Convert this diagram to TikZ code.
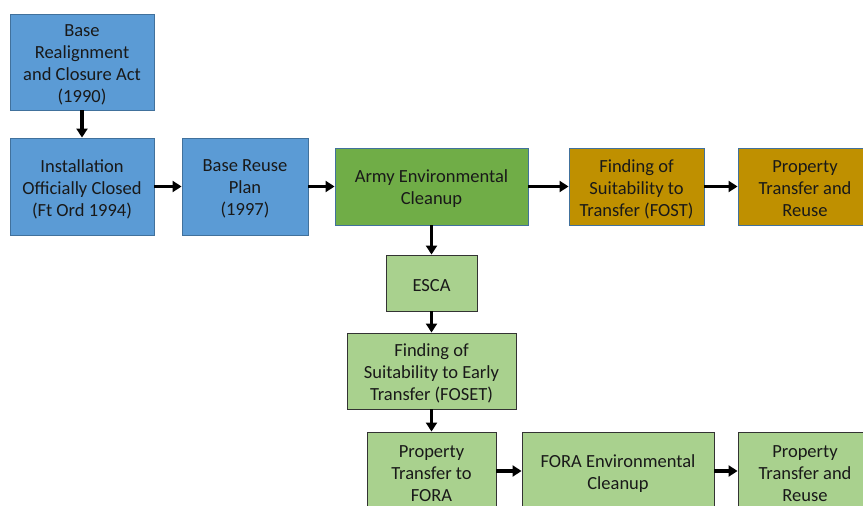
\documentclass[tikz,border=0pt]{standalone}
\usepackage{fontspec}
\setmainfont{Carlito}
\usetikzlibrary{arrows.meta}
\definecolor{bluefill}{HTML}{5B9BD5}
\definecolor{blueline}{HTML}{41719C}
\definecolor{dgreen}{HTML}{70AD47}
\definecolor{lgreen}{HTML}{A9D18E}
\definecolor{gold}{HTML}{BF9000}
\tikzset{
  box/.style={draw, line width=0.9pt, inner sep=0pt, anchor=center},
  boxtext/.style={align=center, inner sep=0pt, yshift=-2.5pt,
    font=\fontsize{18.5}{22}\selectfont, text=black!90},
  bluebox/.style={box, fill=bluefill, draw=blueline},
  dgbox/.style={box, fill=dgreen, draw=blueline},
  goldbox/.style={box, fill=gold, draw=blueline},
  lgbox/.style={box, fill=lgreen, draw=black!80},
  arr/.style={line width=3.5pt, -{Triangle[length=9pt,width=11pt]}, black}
}
\begin{document}
\begin{tikzpicture}[x=1pt,y=-1pt]
\useasboundingbox (0,0) rectangle (863,506);
\clip (0,0) rectangle (863,506);
\node[bluebox, minimum width=144, minimum height=96, label={[boxtext]center:{Base\\Realignment\\and Closure Act\\(1990)}}] (brac) at (82,62) {};
\node[bluebox, minimum width=144, minimum height=97, label={[boxtext]center:{Installation\\Officially Closed\\(Ft Ord 1994)}}] (inst) at (82,186.5) {};
\node[bluebox, minimum width=126, minimum height=97, label={[boxtext]center:{Base Reuse\\Plan\\(1997)}}] (brp) at (245,186.5) {};
\node[dgbox, minimum width=193, minimum height=77, label={[boxtext]center:{Army Environmental\\Cleanup}}] (aec) at (431.5,186.5) {};
\node[goldbox, minimum width=135, minimum height=77, label={[boxtext]center:{Finding of\\Suitability to\\Transfer (FOST)}}] (fost) at (636.5,186.5) {};
\node[goldbox, minimum width=134, minimum height=77, label={[boxtext]center:{Property\\Transfer and\\Reuse}}] (ptr1) at (805,186.5) {};
\node[lgbox, minimum width=91, minimum height=56, label={[boxtext]center:{ESCA}}] (esca) at (431.5,283) {};
\node[lgbox, minimum width=169, minimum height=76, label={[boxtext]center:{Finding of\\Suitability to Early\\Transfer (FOSET)}}] (foset) at (431.5,371) {};
\node[lgbox, minimum width=129, minimum height=78, label={[boxtext]center:{Property\\Transfer to\\FORA}}] (ptf) at (431.5,471) {};
\node[lgbox, minimum width=192, minimum height=78, label={[boxtext]center:{FORA Environmental\\Cleanup}}] (fec) at (618,471) {};
\node[lgbox, minimum width=134, minimum height=78, label={[boxtext]center:{Property\\Transfer and\\Reuse}}] (ptr2) at (805,471) {};
\draw[arr] (brac) -- (inst);
\draw[arr] (inst) -- (brp);
\draw[arr] (brp) -- (aec);
\draw[arr] (aec) -- (fost);
\draw[arr] (fost) -- (ptr1);
\draw[arr] (aec) -- (esca);
\draw[arr] (esca) -- (foset);
\draw[arr] (foset) -- (ptf);
\draw[arr] (ptf) -- (fec);
\draw[arr] (fec) -- (ptr2);
\end{tikzpicture}
\end{document}
